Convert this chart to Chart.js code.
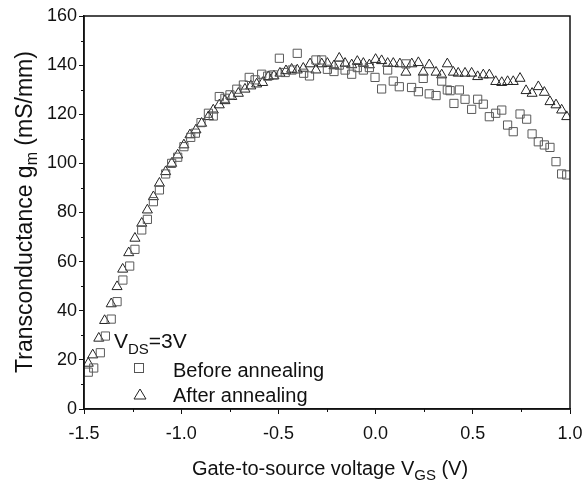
<!DOCTYPE html>
<html>
<head>
<meta charset="utf-8">
<script src="https://cdn.jsdelivr.net/npm/chart.js@4/dist/chart.umd.min.js"></script>
<style>
html,body{margin:0;padding:0;background:#fff;}
#wrap{width:584px;height:485px;position:relative;}
</style>
</head>
<body>
<div id="wrap"><canvas id="c" width="584" height="485"></canvas></div>
<script>
// Before annealing (squares)
const beforeX = [-1.478,-1.45,-1.416,-1.39,-1.36,-1.33,-1.30,-1.265,-1.238,-1.203,-1.174,-1.143,-1.112,-1.08,-1.049,-1.018,-0.986,-0.951,-0.927,-0.898,-0.86,-0.835,-0.804,-0.775,-0.749,-0.714,-0.68,-0.65,-0.62,-0.586,-0.555,-0.525,-0.495,-0.465,-0.43,-0.403,-0.37,-0.34,-0.307,-0.277,-0.248,-0.214,-0.187,-0.157,-0.123,-0.094,-0.063,-0.032,-0.003,0.031,0.062,0.091,0.122,0.156,0.185,0.22,0.245,0.276,0.311,0.34,0.369,0.383,0.403,0.431,0.46,0.494,0.525,0.554,0.585,0.618,0.649,0.679,0.708,0.743,0.777,0.805,0.837,0.868,0.897,0.928,0.957,0.983];
const beforeY = [15,16.7,22.9,29.7,36.6,43.7,52.5,58.2,65,72.9,77.2,84.4,89.2,95.7,100,102.5,106.8,110.6,112.3,116.6,120.4,119.3,127.2,126.5,127.9,130.2,131.9,135,134,136.3,135.5,136,142.8,137,138,144.8,136.7,135.6,142.1,142.1,138.3,137.4,140,138,136.3,139,138,139,135,130.3,138,133.5,131.2,140.5,130.9,129.2,134.6,128.3,127.6,133.5,129.9,129.6,124.4,129.9,126.1,122,126.1,124.1,119,120.4,121.7,115.6,112.9,120.1,118,112,108.8,107.5,106.5,100.7,95.7,95.3];
// After annealing (triangles)
const afterX = [-1.478,-1.455,-1.424,-1.394,-1.36,-1.33,-1.301,-1.27,-1.238,-1.203,-1.174,-1.143,-1.112,-1.08,-1.049,-1.018,-0.986,-0.955,-0.924,-0.895,-0.86,-0.835,-0.804,-0.775,-0.74,-0.706,-0.672,-0.642,-0.612,-0.581,-0.552,-0.523,-0.492,-0.461,-0.432,-0.403,-0.372,-0.337,-0.307,-0.277,-0.248,-0.214,-0.187,-0.157,-0.123,-0.094,-0.063,-0.032,0.0,0.031,0.062,0.091,0.125,0.156,0.186,0.22,0.245,0.276,0.311,0.34,0.369,0.4,0.425,0.46,0.494,0.525,0.554,0.585,0.618,0.649,0.679,0.708,0.743,0.774,0.805,0.837,0.868,0.897,0.928,0.957,0.983];
const afterY = [18.6,22,28.8,36,42.8,49.8,56.9,63.6,69.5,75.6,81,86.4,91.9,96.6,100,103.4,107.5,111.6,113.6,116.3,119,121.7,123.8,125.5,127.2,128.5,130.2,131.5,132.3,132.9,135.3,135.6,136.7,137.7,138.3,138,138.7,140.5,138,140.5,140.7,139.7,142.8,140.7,140.1,141.5,140.7,140.1,142.3,141.8,140.7,140.7,140.5,137.1,140.5,141,137.1,140.1,137.1,136,140.5,137.1,136.7,136.7,136.7,135.3,136,136,133.3,132.9,133.3,133.3,134.6,129.6,128.5,131.2,128.9,125.1,123.8,121.7,119];
const xTicks = [-1.5,-1.0,-0.5,0.0,0.5,1.0];
const yTicks = [0,20,40,60,80,100,120,140,160];
const seriesLabels = ['Before annealing','After annealing'];

const FONT = '"Liberation Sans", Arial, Helvetica, sans-serif';
const toPts = (xs, ys) => xs.map((x, i) => ({x: x, y: ys[i]}));

function drawSubText(ctx, parts, x, y, bigFont, subFont, subDrop, center) {
  let total = 0;
  const widths = parts.map(p => { ctx.font = p.sub ? subFont : bigFont; const w = ctx.measureText(p.t).width; total += w; return w; });
  let cx = center ? x - total / 2 : x;
  parts.forEach((p, i) => {
    ctx.font = p.sub ? subFont : bigFont;
    ctx.fillText(p.t, cx, p.sub ? y + subDrop : y);
    cx += widths[i];
  });
}

const decorPlugin = {
  id: 'decor',
  afterDraw(chart) {
    const ctx = chart.ctx, a = chart.chartArea;
    const xs = chart.scales.x, ys = chart.scales.y;
    ctx.save();
    // frame
    ctx.strokeStyle = '#111';
    ctx.lineWidth = 1.5;
    ctx.strokeRect(a.left, a.top, a.right - a.left, a.bottom - a.top);
    // minor ticks
    ctx.lineWidth = 1;
    ctx.beginPath();
    for (let v = -1.25; v < 1.0; v += 0.5) {
      const px = Math.round(xs.getPixelForValue(v)) + 0.5;
      ctx.moveTo(px, a.bottom); ctx.lineTo(px, a.bottom + 3);
    }
    for (let v = 10; v < 160; v += 20) {
      const py = Math.round(ys.getPixelForValue(v)) + 0.5;
      ctx.moveTo(a.left, py); ctx.lineTo(a.left - 3, py);
    }
    ctx.stroke();

    ctx.fillStyle = '#111';
    ctx.textBaseline = 'alphabetic';
    ctx.textAlign = 'left';
    // x title
    drawSubText(ctx, [{t:'Gate-to-source voltage V'},{t:'GS',sub:true},{t:' (V)'}],
      (a.left + a.right) / 2 + 3, 475, '20px ' + FONT, '15px ' + FONT, 5, true);

    // y title rotated
    ctx.save();
    ctx.translate(32, 212);
    ctx.rotate(-Math.PI / 2);
    drawSubText(ctx, [{t:'Transconductance g'},{t:'m',sub:true},{t:' (mS/mm)'}],
      0, 0, '23px ' + FONT, '16px ' + FONT, 5, true);
    ctx.restore();

    // legend
    drawSubText(ctx, [{t:'V'},{t:'DS',sub:true},{t:'=3V'}],
      114, 348, '21px ' + FONT, '15px ' + FONT, 6, false);
    ctx.font = '20px ' + FONT;
    ctx.fillText(seriesLabels[0], 173, 377);
    ctx.fillText(seriesLabels[1], 173, 402);
    ctx.lineWidth = 1;
    ctx.strokeStyle = '#555';
    ctx.strokeRect(134.5, 363.5, 9, 9);
    ctx.strokeStyle = '#222';
    ctx.beginPath();
    ctx.moveTo(140, 389); ctx.lineTo(146, 399); ctx.lineTo(134, 399); ctx.closePath();
    ctx.stroke();
    ctx.restore();
  }
};

new Chart(document.getElementById('c'), {
  type: 'scatter',
  data: {
    datasets: [
      {
        label: seriesLabels[0],
        data: toPts(beforeX, beforeY),
        pointStyle: 'rect',
        pointRadius: 5.8,
        borderColor: '#5a5a5a',
        backgroundColor: 'rgba(0,0,0,0)',
        borderWidth: 1,
        showLine: false
      },
      {
        label: seriesLabels[1],
        data: toPts(afterX, afterY),
        pointStyle: 'triangle',
        pointRadius: 5.8,
        borderColor: '#222',
        backgroundColor: 'rgba(0,0,0,0)',
        borderWidth: 1,
        showLine: false
      }
    ]
  },
  options: {
    responsive: false,
    animation: false,
    devicePixelRatio: 1,
    layout: { padding: { left: 0, top: 16, right: 14, bottom: 0 } },
    plugins: { legend: { display: false }, tooltip: { enabled: false } },
    scales: {
      x: {
        type: 'linear', min: -1.5, max: 1.0,
        afterBuildTicks: s => { s.ticks = xTicks.map(v => ({value: v})); },
        afterFit: s => { s.height = 76; s.paddingLeft = 0; s.paddingRight = 0; },
        grid: { drawOnChartArea: false, tickLength: 5, color: '#111', tickWidth: 1 },
        border: { display: true, color: '#111', width: 1.5 },
        ticks: { color: '#111', font: { family: FONT, size: 18 }, padding: 9, maxRotation: 0,
                 callback: v => Number(v).toFixed(1) }
      },
      y: {
        type: 'linear', min: 0, max: 160,
        afterBuildTicks: s => { s.ticks = yTicks.map(v => ({value: v})); },
        afterFit: s => { s.width = 84; s.paddingTop = 0; s.paddingBottom = 0; },
        grid: { drawOnChartArea: false, tickLength: 5, color: '#111', tickWidth: 1 },
        border: { display: true, color: '#111', width: 1.5 },
        ticks: { color: '#111', font: { family: FONT, size: 18 }, padding: 2,
                 callback: v => String(v) }
      }
    }
  },
  plugins: [decorPlugin]
});
</script>
</body>
</html>
